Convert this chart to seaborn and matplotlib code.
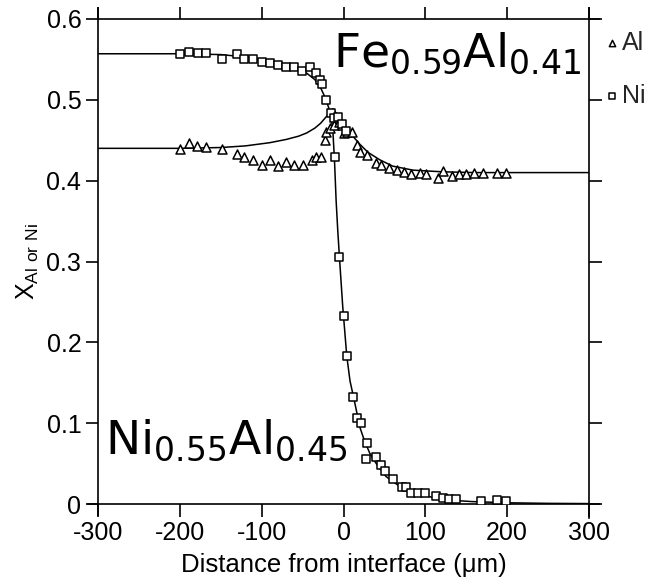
import matplotlib
matplotlib.use("Agg")
import matplotlib.pyplot as plt
import seaborn as sns

sns.set_theme(style="ticks")
plt.rcParams["font.family"] = ["Liberation Sans", "DejaVu Sans"]
plt.rcParams["axes.unicode_minus"] = False

# Measured Al mole fraction across the diffusion couple
al_x = [-200, -189, -179, -168, -149, -130, -121, -111, -99, -90, -80, -70, -60, -50,
        -38, -33, -28, -23, -21, -17, -11, -6, -2, 1, 4, 10, 16, 20, 29, 40, 46, 56,
        65, 74, 83, 93, 101, 115, 121, 133, 141, 150, 160, 170, 188, 199]
al_y = [0.439, 0.447, 0.443, 0.442, 0.439, 0.433, 0.429, 0.425, 0.420, 0.425, 0.418,
        0.423, 0.420, 0.420, 0.426, 0.429, 0.429, 0.450, 0.460, 0.465, 0.469, 0.472,
        0.469, 0.459, 0.460, 0.460, 0.444, 0.436, 0.432, 0.422, 0.420, 0.416, 0.413,
        0.411, 0.408, 0.410, 0.408, 0.403, 0.412, 0.406, 0.408, 0.408, 0.410, 0.410,
        0.410, 0.410]

# Measured Ni mole fraction
ni_x = [-200, -189, -178, -168, -149, -130, -121, -111, -100, -90, -80, -70, -60, -51,
        -41, -34, -29, -26, -21, -15, -11, -7, -2, 3, -10, -5, 0, 4, 11, 16, 21, 27, 29,
        40, 46, 51, 60, 71, 76, 82, 91, 100, 113, 121, 129, 138, 168, 188, 199]
ni_y = [0.557, 0.559, 0.558, 0.558, 0.551, 0.557, 0.550, 0.550, 0.547, 0.546, 0.543,
        0.541, 0.540, 0.536, 0.540, 0.533, 0.525, 0.520, 0.500, 0.484, 0.478, 0.479,
        0.470, 0.462, 0.429, 0.306, 0.233, 0.183, 0.132, 0.106, 0.100, 0.056, 0.075,
        0.058, 0.048, 0.041, 0.031, 0.021, 0.021, 0.014, 0.014, 0.014, 0.010, 0.007,
        0.006, 0.006, 0.004, 0.005, 0.004]

# Calculated profiles
ni_fit_x = [-300, -200, -150, -120, -100, -80, -60, -45, -35, -28, -22, -18, -15, -13,
            -11, -9, -7, -5, -1, 4, 8, 13, 20, 25, 32, 40, 52, 60, 70, 84, 100, 125,
            157, 200, 250, 300]
ni_fit_y = [0.557, 0.557, 0.556, 0.553, 0.550, 0.546, 0.540, 0.533, 0.525, 0.515,
            0.502, 0.490, 0.478, 0.462, 0.425, 0.375, 0.338, 0.306, 0.245, 0.183,
            0.152, 0.129, 0.095, 0.080, 0.063, 0.050, 0.034, 0.028, 0.021, 0.014,
            0.010, 0.005, 0.003, 0.0015, 0.0008, 0.0005]

al_fit_x = [-300, -200, -150, -120, -90, -70, -55, -45, -35, -28, -22, -17, -13, -10,
            -6, -2, 3, 8, 14, 20, 30, 44, 60, 85, 120, 160, 300]
al_fit_y = [0.440, 0.440, 0.441, 0.443, 0.447, 0.451, 0.455, 0.459, 0.465, 0.471,
            0.478, 0.484, 0.489, 0.485, 0.480, 0.475, 0.466, 0.459, 0.452, 0.445,
            0.435, 0.426, 0.418, 0.413, 0.411, 0.410, 0.410]

xticks = [-300, -200, -100, 0, 100, 200, 300]
yticks = [0, 0.1, 0.2, 0.3, 0.4, 0.5, 0.6]
ytick_labels = ["0", "0.1", "0.2", "0.3", "0.4", "0.5", "0.6"]

fig = plt.figure(figsize=(6.49, 5.87), dpi=100)
ax = fig.add_axes([98 / 649, 83 / 587, 491 / 649, 485 / 587])

sns.lineplot(x=ni_fit_x, y=ni_fit_y, color="black", linewidth=1.1,
             estimator=None, sort=False, ax=ax)
sns.lineplot(x=al_fit_x, y=al_fit_y, color="black", linewidth=1.1,
             estimator=None, sort=False, ax=ax)
sns.scatterplot(x=al_x, y=al_y, marker="^", s=42, facecolor="white",
                edgecolor="black", linewidth=1.1, label="Al", ax=ax, zorder=3)
sns.scatterplot(x=ni_x, y=ni_y, marker="s", s=36, facecolor="white",
                edgecolor="black", linewidth=1.1, label="Ni", ax=ax, zorder=3)

ax.set_xlim(-300, 300)
ax.set_ylim(0, 0.6)
ax.set_xticks(xticks)
ax.set_yticks(yticks)
ax.set_yticklabels(ytick_labels)
ax.tick_params(direction="out", length=9, width=1.2, top=True, right=True,
               labeltop=False, labelright=False, labelsize=18, color="black",
               labelcolor="black", pad=3)

for side in ["left", "right", "top", "bottom"]:
    ax.spines[side].set_visible(True)
    ax.spines[side].set_color("black")
    ax.spines[side].set_linewidth(1.2)
ax.spines["bottom"].set_bounds(-312, 312)
ax.spines["top"].set_bounds(-300, 312)
ax.spines["left"].set_bounds(-0.013, 0.613)
ax.spines["right"].set_bounds(-0.017, 0.613)

ax.set_xlabel("Distance from interface (\u03bcm)", fontsize=18.5, color="black",
              labelpad=6)
ax.set_ylabel(r"$\mathregular{X_{Al\ or\ Ni}}$", fontsize=18, color="black",
              labelpad=4)

ax.text(-13, 0.541, r"Fe$\mathregular{_{0.59}}$Al$\mathregular{_{0.41}}$",
        fontsize=34, family="DejaVu Sans", color="black", va="baseline", ha="left")
ax.text(-291, 0.063, r"Ni$\mathregular{_{0.55}}$Al$\mathregular{_{0.45}}$",
        fontsize=34, family="DejaVu Sans", color="black", va="baseline", ha="left")

ax.legend(loc="upper left", bbox_to_anchor=(604 / 649, 1 - 31 / 587),
          bbox_transform=fig.transFigure, frameon=False, fontsize=18,
          handlelength=0.6, handletextpad=0.1, labelspacing=1.15,
          borderaxespad=0, borderpad=0, markerscale=0.7)

fig.savefig("out.png", dpi=100)
